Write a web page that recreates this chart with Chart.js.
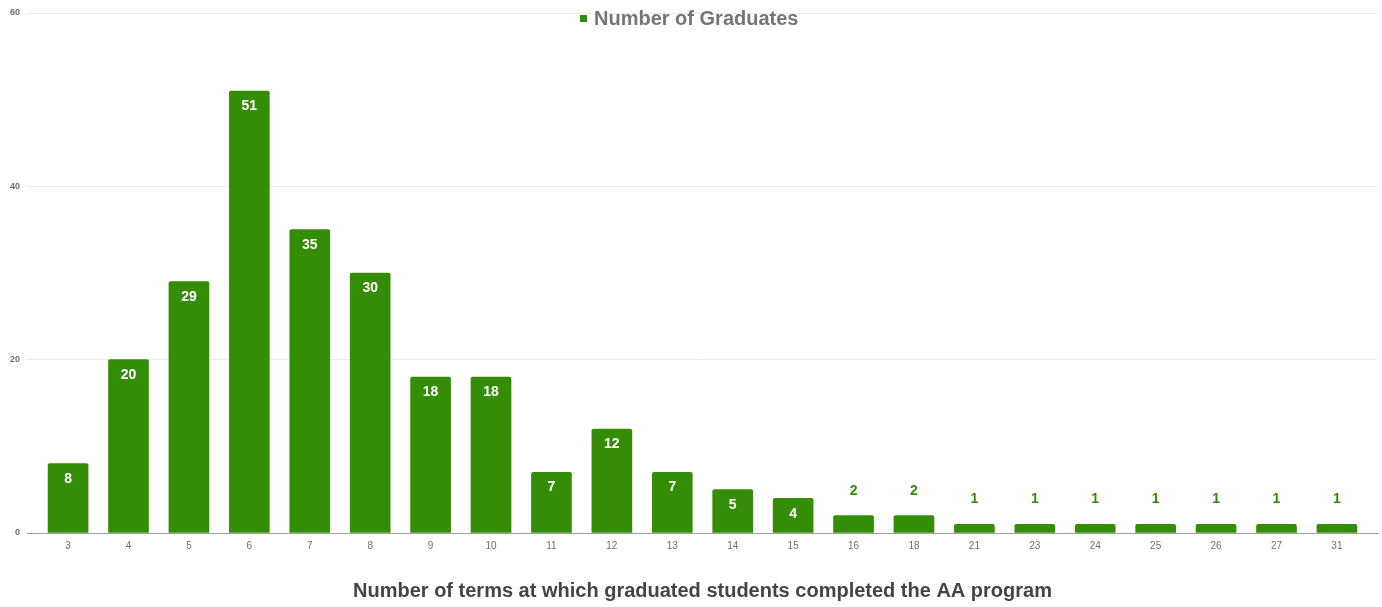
<!DOCTYPE html>
<html lang="en">
<head>
    <meta charset="UTF-8">
    <title>Number of Graduates</title>
    <script src="https://cdn.jsdelivr.net/npm/chart.js@4.4.0/dist/chart.umd.min.js"></script>
    <style>
        html, body { margin: 0; padding: 0; background: #fff; }
        #wrap { width: 1382px; height: 607px; }
    </style>
</head>
<body>
    <div id="wrap"><canvas id="gradChart"></canvas></div>
    <script>
        const terms = ['3', '4', '5', '6', '7', '8', '9', '10', '11', '12', '13', '14', '15', '16', '18', '21', '23', '24', '25', '26', '27', '31'];
        const graduates = [8, 20, 29, 51, 35, 30, 18, 18, 7, 12, 7, 5, 4, 2, 2, 1, 1, 1, 1, 1, 1, 1];
        const yTicks = [0, 20, 40, 60];

        const green = '#358c06';
        const font = 'Arial, "Liberation Sans", sans-serif';

        // value labels: white inside tall bars, green above short ones
        const valueLabels = {
            id: 'valueLabels',
            afterDatasetsDraw(chart) {
                const ctx = chart.ctx;
                const meta = chart.getDatasetMeta(0);
                ctx.save();
                ctx.font = 'bold 14px ' + font;
                ctx.textAlign = 'center';
                ctx.textBaseline = 'middle';
                meta.data.forEach((bar, i) => {
                    const v = graduates[i];
                    if (v >= 4) {
                        ctx.fillStyle = '#ffffff';
                        ctx.fillText(v, bar.x, bar.y + (v === 4 ? 16 : 15));
                    } else {
                        ctx.fillStyle = green;
                        ctx.fillText(v, bar.x, bar.y - 25);
                    }
                });
                ctx.restore();
            }
        };

        // legend drawn over the top of the plot, like the original
        const topLegend = {
            id: 'topLegend',
            afterDraw(chart) {
                const ctx = chart.ctx;
                const text = 'Number of Graduates';
                ctx.save();
                ctx.font = 'bold 20px ' + font;
                const left = 580;
                ctx.fillStyle = green;
                ctx.fillRect(left, 15, 7, 7);
                ctx.fillStyle = '#757575';
                ctx.textBaseline = 'middle';
                ctx.fillText(text, left + 14, 19);
                ctx.restore();
            }
        };

        new Chart(document.getElementById('gradChart'), {
            type: 'bar',
            data: {
                datasets: [{
                    label: 'Number of Graduates',
                    data: graduates.map((v, i) => ({ x: i, y: v })),
                    backgroundColor: green,
                    borderRadius: 2,
                    borderSkipped: 'bottom',
                    barThickness: 40
                }]
            },
            options: {
                responsive: true,
                maintainAspectRatio: false,
                animation: false,
                layout: { padding: { top: 13, right: 4 } },
                plugins: {
                    legend: { display: false },
                    tooltip: { enabled: false }
                },
                scales: {
                    x: {
                        type: 'linear',
                        offset: false,
                        min: -0.68,
                        max: terms.length - 1 + 0.68,
                        afterFit: s => { s.height = 74; },
                        afterBuildTicks: s => { s.ticks = terms.map((t, i) => ({ value: i })); },
                        grid: { display: false, drawTicks: false },
                        border: { display: true, color: '#9e9e9e', width: 1 },
                        ticks: {
                            autoSkip: false,
                            maxRotation: 0,
                            padding: 7,
                            color: '#6f6f6f',
                            font: { family: font, size: 10 },
                            callback: v => terms[v] !== undefined ? terms[v] : ''
                        },
                        title: {
                            display: true,
                            text: 'Number of terms at which graduated students completed the AA program',
                            color: '#444444',
                            font: { family: font, size: 20, weight: 'bold' },
                            padding: { top: 0, bottom: 4 }
                        }
                    },
                    y: {
                        min: 0,
                        max: 60,
                        afterFit: s => { s.width = 27; },
                        afterBuildTicks: s => { s.ticks = yTicks.map(v => ({ value: v })); },
                        grid: { color: '#ebebeb', drawTicks: false },
                        border: { display: false },
                        ticks: {
                            padding: 7,
                            color: '#6f6f6f',
                            font: { family: font, size: 9, weight: 'bold' }
                        }
                    }
                }
            },
            plugins: [valueLabels, topLegend]
        });
    </script>
</body>
</html>
